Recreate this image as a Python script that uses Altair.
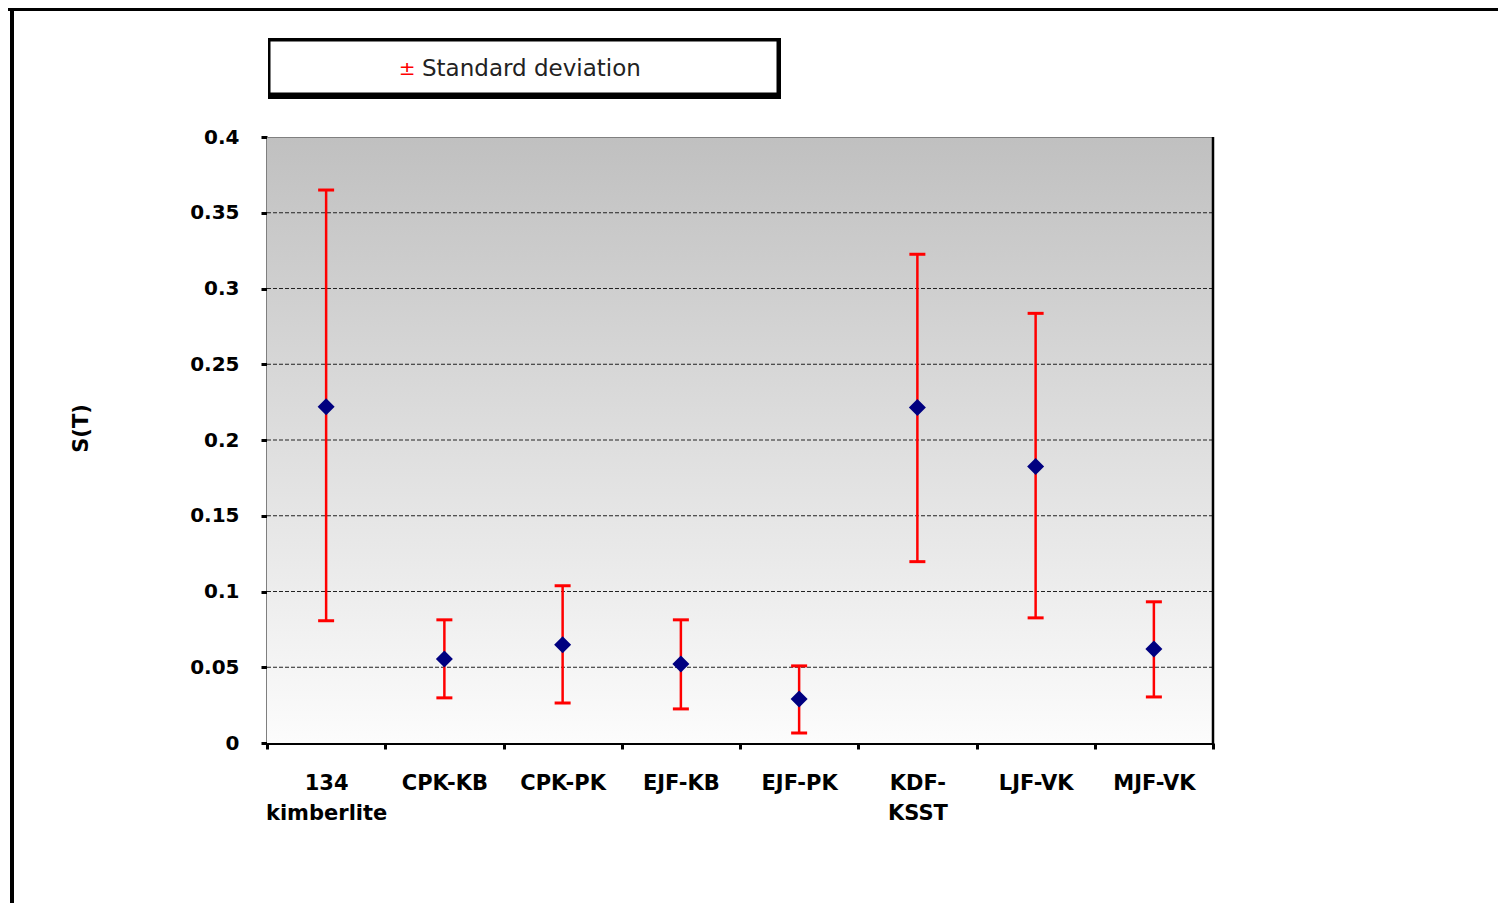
import altair as alt
import pandas as pd

categories = ["134 kimberlite", "CPK-KB", "CPK-PK", "EJF-KB", "EJF-PK", "KDF-KSST", "LJF-VK", "MJF-VK"]
means = [0.222, 0.0555, 0.0648, 0.0522, 0.0291, 0.2215, 0.1825, 0.0621]
upper = [0.365, 0.0813, 0.1038, 0.0813, 0.0509, 0.3226, 0.2836, 0.0932]
lower = [0.0807, 0.0298, 0.0264, 0.0225, 0.0066, 0.1197, 0.0826, 0.0304]
y_ticks = [0, 0.05, 0.1, 0.15, 0.2, 0.25, 0.3, 0.35, 0.4]
grid_vals = [0.05, 0.1, 0.15, 0.2, 0.25, 0.3, 0.35]
legend_label = "Standard deviation"
y_title = "S(T)"

W, H = 946, 606

df = pd.DataFrame({"cat": categories, "mean": means, "lo": lower, "hi": upper})
caps = pd.DataFrame({"cat": categories * 2, "v": upper + lower})
grid_df = pd.DataFrame({"g": grid_vals})
one = pd.DataFrame({"a": [0]})

yscale = alt.Scale(domain=[0, 0.4], nice=False, zero=False)
xscale = alt.Scale(type="band", domain=categories, paddingInner=0, paddingOuter=0)

xaxis = alt.Axis(
    title=None, labelAngle=0, domainColor="black", domainWidth=3, tickColor="black",
    tickWidth=3, tickSize=6, tickBand="extent", labelFont="DejaVu Sans", labelFontWeight="bold",
    labelFontSize=21, labelColor="black", labelPadding=23, labelLineHeight=30,
    labelExpr="datum.label == '134 kimberlite' ? ['134', 'kimberlite'] : datum.label == 'KDF-KSST' ? ['KDF-', 'KSST'] : datum.label",
)
yaxis = alt.Axis(
    title=y_title, values=y_ticks, format="~g", grid=False, domainColor="black", domainWidth=2,
    tickColor="black", tickWidth=3, tickSize=6, labelFont="DejaVu Sans", labelFontWeight="bold",
    labelFontSize=20, labelColor="black", labelPadding=22,
    titleFont="DejaVu Sans", titleFontWeight="bold", titleFontSize=21, titleColor="black",
    titleX=-186, titleY=291, titleAlign="center", titleBaseline="middle", titleAngle=-90,
)

bg = alt.Chart(one).mark_rect(
    color=alt.LinearGradient(
        gradient="linear",
        stops=[alt.GradientStop(color="#c0c0c0", offset=0),
               alt.GradientStop(color="#fcfcfc", offset=1)],
        x1=1, x2=1, y1=0, y2=1,
    )
).encode(x=alt.value(0), x2=alt.value(W), y=alt.value(0), y2=alt.value(H))

grid = alt.Chart(grid_df).mark_rule(color="#222222", strokeWidth=1, strokeDash=[4, 2]).encode(
    y=alt.Y("g:Q", scale=yscale, axis=yaxis)
)

bars = alt.Chart(df).mark_rule(color="#ff0000", strokeWidth=2.5).encode(
    x=alt.X("cat:N", scale=xscale, axis=xaxis, sort=categories),
    y=alt.Y("lo:Q", scale=yscale, axis=yaxis),
    y2="hi:Q",
)
capmarks = alt.Chart(caps).mark_tick(color="#ff0000", thickness=3, size=16, opacity=1).encode(
    x=alt.X("cat:N", scale=xscale, axis=xaxis, sort=categories),
    y=alt.Y("v:Q", scale=yscale, axis=yaxis),
)
pts = alt.Chart(df).mark_point(shape="diamond", filled=True, color="#000080", size=290, opacity=1).encode(
    x=alt.X("cat:N", scale=xscale, axis=xaxis, sort=categories),
    y=alt.Y("mean:Q", scale=yscale, axis=yaxis),
)

top_line = alt.Chart(one).mark_rule(color="#808080", strokeWidth=1).encode(
    x=alt.value(0), x2=alt.value(W), y=alt.value(0.5)
)
right_line = alt.Chart(one).mark_rule(color="black", strokeWidth=2.5).encode(
    x=alt.value(W), y=alt.value(0), y2=alt.value(H + 1)
)

# outer frame
frame_left = alt.Chart(one).mark_rule(color="black", strokeWidth=4).encode(
    x=alt.value(-255), y=alt.value(-129), y2=alt.value(780)
)
frame_top = alt.Chart(one).mark_rule(color="black", strokeWidth=4).encode(
    x=alt.value(-259), x2=alt.value(W + 290), y=alt.value(-128)
)

# legend box
shadow = alt.Chart(one).mark_rect(color="black").encode(
    x=alt.value(1), x2=alt.value(514), y=alt.value(-99), y2=alt.value(-38)
)
box = alt.Chart(one).mark_rect(fill="white", stroke="black", strokeWidth=1).encode(
    x=alt.value(3), x2=alt.value(510), y=alt.value(-96), y2=alt.value(-44)
)
pm = alt.Chart(one).mark_text(text="±", color="#ff0000", fontSize=20, font="DejaVu Sans",
                              align="center", baseline="middle").encode(
    x=alt.value(140), y=alt.value(-68)
)
ltxt = alt.Chart(one).mark_text(text=legend_label, color="#222222", fontSize=23, font="DejaVu Sans",
                                align="left", baseline="middle").encode(
    x=alt.value(155), y=alt.value(-68)
)

chart = alt.layer(
    bg, grid, top_line, right_line, bars, capmarks, pts,
    frame_left, frame_top, shadow, box, pm, ltxt
).properties(
    width=W, height=H,
    autosize=alt.AutoSizeParams(type="none"),
    padding={"left": 259, "top": 129, "right": 285, "bottom": 160},
    background="white",
).configure_view(stroke=None)

chart.save("out.html", embed_options={"renderer": "svg", "actions": False})
